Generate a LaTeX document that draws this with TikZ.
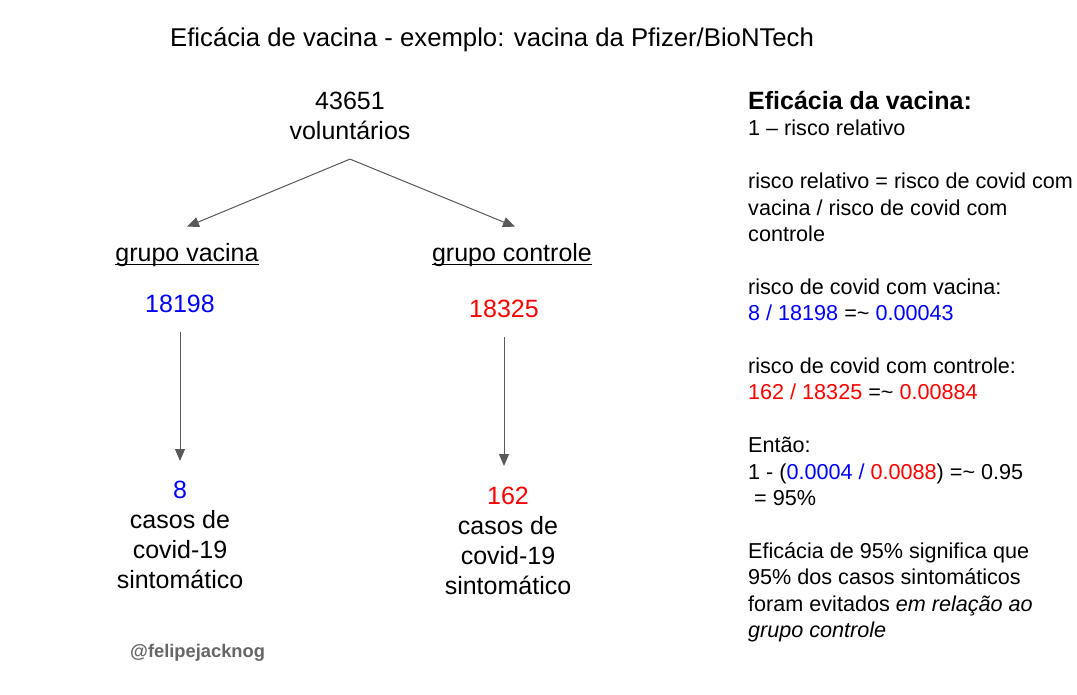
\documentclass[tikz,border=0pt]{standalone}
\usepackage{fontspec}
\setmainfont{Liberation Sans}
\usetikzlibrary{arrows.meta,positioning}
\definecolor{azul}{RGB}{0,0,255}
\definecolor{vermelho}{RGB}{255,0,0}
\definecolor{cinza}{RGB}{89,89,89}
\definecolor{assinatura}{RGB}{102,102,102}

\begin{document}
\begin{tikzpicture}[x=1pt, y=-1pt,
  texto/.style = {inner sep=0pt, align=center, font=\fontsize{25}{30}\selectfont},
  lado/.style = {inner sep=0pt, align=left, anchor=north west, font=\fontsize{21.6}{26.4}\selectfont},
  seta/.style = {draw=cinza, line width=1pt, -{Triangle[length=12pt,width=10pt]}}]
  \useasboundingbox[fill=white] (0,0) rectangle (1077,694);
  % titulo
  \node[anchor=base west, inner sep=0pt, font=\fontsize{25.7}{30}\selectfont] (titulo) at (170,46) {Eficácia de vacina - exemplo: vacina da Pfizer/BioNTech};
  % arvore
  \node[texto, anchor=north] (total) at (350,92) {43651\\voluntários};
  \node[texto, anchor=base] (vacina) at (187,261) {grupo vacina};
  \node[texto, anchor=base] (controle) at (512,261) {grupo controle};
  \draw[line width=1.3pt] ([yshift=-3.5pt]vacina.base west) -- ([yshift=-3.5pt]vacina.base east);
  \draw[line width=1.3pt] ([yshift=-3.5pt]controle.base west) -- ([yshift=-3.5pt]controle.base east);
  \node[texto, anchor=base, text=azul] (n18198) at (180,312) {18198};
  \node[texto, anchor=base, text=vermelho] (n18325) at (504,317) {18325};
  \node[texto, anchor=north] (casos8) at (180,481) {{\color{azul}8}\\casos de\\covid-19\\sintomático};
  \node[texto, anchor=north] (casos162) at (508,487) {{\color{vermelho}162}\\casos de\\covid-19\\sintomático};
  \draw[seta] ([yshift=-19pt]total.south) -- ([yshift=16pt]vacina.north);
  \draw[seta] ([yshift=-19pt]total.south) -- ([xshift=3pt,yshift=16pt]controle.north);
  \draw[seta] ([yshift=-20pt]n18198.south) -- ([yshift=20pt]casos8.north);
  \draw[seta] ([yshift=-20pt]n18325.south) -- ([xshift=-4pt,yshift=21pt]casos162.north);
  \node[anchor=base west, inner sep=0pt, text=assinatura, font=\bfseries\fontsize{18.3}{22}\selectfont] (autor) at (130,657) {@felipejacknog};
  % explicacao
  \node[anchor=base west, inner sep=0pt, font=\bfseries\fontsize{25}{30}\selectfont] (eficacia) at (748,109) {Eficácia da vacina:};
  \node[lado] (explica) at (748,120) {1 – risco relativo\\[26.4pt]
    risco relativo = risco de covid com\\vacina / risco de covid com\\controle\\[26.4pt]
    risco de covid com vacina:\\{\color{azul}8 / 18198} =\textasciitilde{} {\color{azul}0.00043}\\[26.4pt]
    risco de covid com controle:\\{\color{vermelho}162 / 18325} =\textasciitilde{} {\color{vermelho}0.00884}\\[26.4pt]
    Então:\\1 - ({\color{azul}0.0004 / }{\color{vermelho}0.0088}) =\textasciitilde{} 0.95\\\ = 95\%\\[26.4pt]
    Eficácia de 95\% significa que\\95\% dos casos sintomáticos\\foram evitados \textit{em relação ao}\\\textit{grupo controle}};
\end{tikzpicture}
\end{document}
